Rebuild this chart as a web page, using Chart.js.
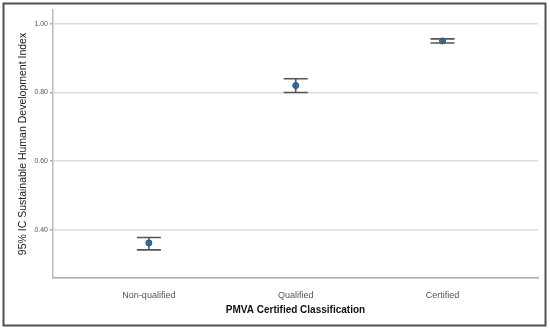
<!DOCTYPE html>
<html>
<head>
<meta charset="utf-8">
<script src="https://cdn.jsdelivr.net/npm/chart.js@4"></script>
<style>
  body { margin: 0; background: #fff; }
  #wrap { width: 550px; height: 329px; }
</style>
</head>
<body>
<div id="wrap"><canvas id="chart-ci" width="550" height="329"></canvas></div>
<script>
// data
const categories = ['Non-qualified', 'Qualified', 'Certified'];
const means = [0.362, 0.820, 0.950];
const lower = [0.342, 0.800, 0.944];
const upper = [0.378, 0.840, 0.956];
const yTicks = [0.40, 0.60, 0.80, 1.00];

const capHalf = 0.082;

// whiskers: cap, stem, cap for every category, split with null gaps
let whiskers = [];
categories.forEach(function (c, i) {
  whiskers.push({ x: i - capHalf, y: upper[i] }, { x: i + capHalf, y: upper[i] }, { x: i, y: null });
  whiskers.push({ x: i, y: upper[i] }, { x: i, y: lower[i] }, { x: i, y: null });
  whiskers.push({ x: i - capHalf, y: lower[i] }, { x: i + capHalf, y: lower[i] }, { x: i, y: null });
});
const meanPoints = categories.map(function (c, i) { return { x: i, y: means[i] }; });

const frame = {
  id: 'frame',
  beforeDraw: function (chart) {
    const ctx = chart.ctx;
    ctx.save();
    ctx.fillStyle = '#fff';
    ctx.fillRect(0, 0, chart.width, chart.height);
    ctx.strokeStyle = '#505050';
    ctx.lineWidth = 2;
    ctx.strokeRect(3.5, 3.5, 542, 322);
    ctx.restore();
  }
};

const ctx = document.getElementById('chart-ci').getContext('2d');
new Chart(ctx, {
  type: 'scatter',
  data: {
    datasets: [
      {
        label: 'CI',
        data: whiskers,
        showLine: true,
        spanGaps: false,
        borderColor: '#555',
        borderWidth: 1.6,
        pointRadius: 0
      },
      {
        label: 'Mean',
        data: meanPoints,
        pointRadius: 3,
        pointBackgroundColor: '#1f7fd0',
        pointBorderColor: '#2b4a66',
        pointBorderWidth: 1
      }
    ]
  },
  options: {
    responsive: false,
    animation: false,
    layout: { padding: { left: 0, right: 12, top: 10, bottom: 0 } },
    plugins: {
      legend: { display: false },
      tooltip: { enabled: false }
    },
    scales: {
      x: {
        type: 'linear',
        min: -0.653,
        max: 2.65,
        afterBuildTicks: function (scale) {
          scale.ticks = categories.map(function (c, i) { return { value: i }; });
        },
        afterFit: function (scale) { scale.height = 51; },
        grid: { display: false },
        border: { display: true, color: '#aaa', width: 1.5 },
        ticks: {
          padding: 4,
          color: '#555',
          font: { family: 'Liberation Sans', size: 9 },
          callback: function (v) { return categories[v]; }
        },
        title: {
          display: true,
          text: 'PMVA Certified Classification',
          color: '#111',
          font: { family: 'Liberation Sans', size: 10, weight: 'bold' },
          padding: { top: 0, bottom: 13 }
        }
      },
      y: {
        min: 0.26,
        max: 1.04,
        afterBuildTicks: function (scale) {
          scale.ticks = yTicks.map(function (v) { return { value: v }; });
        },
        afterFit: function (scale) { scale.width = 53; },
        grid: { color: '#dcdcdc', lineWidth: 1.5, tickLength: 3, tickColor: '#aaa' },
        border: { display: true, color: '#bbb', width: 1.5 },
        ticks: {
          padding: 2,
          color: '#555',
          font: { family: 'Liberation Sans', size: 7 },
          callback: function (v) { return Number(v).toFixed(2); }
        },
        title: {
          display: true,
          text: '95% IC Sustainable Human Development Index',
          color: '#222',
          font: { family: 'Liberation Sans', size: 10.5 },
          padding: { top: 17, bottom: 0 }
        }
      }
    }
  },
  plugins: [frame]
});
</script>
</body>
</html>
